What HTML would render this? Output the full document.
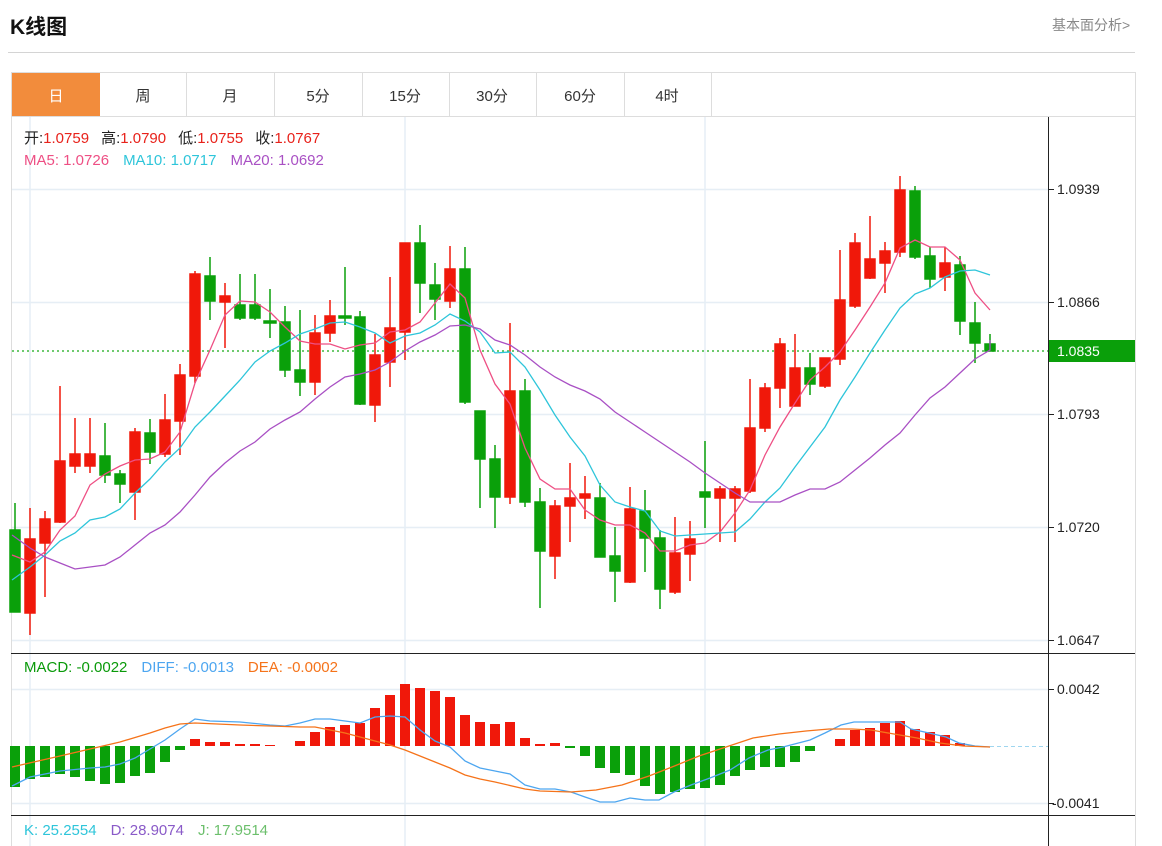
<!DOCTYPE html>
<html><head><meta charset="utf-8"><style>
body{margin:0;background:#fff;width:1162px;height:846px;overflow:hidden;font-family:"Liberation Sans","Noto Sans CJK SC",sans-serif}
svg{position:absolute;left:0;top:0}
</style></head><body>
<svg width="1162" height="846" xmlns="http://www.w3.org/2000/svg" font-family="Liberation Sans, Noto Sans CJK SC, sans-serif">
<text x="10" y="34" font-size="21" font-weight="bold" fill="#111">K线图</text>
<text x="1052" y="30" font-size="14" fill="#888">基本面分析&gt;</text>
<line x1="8" y1="52.5" x2="1135" y2="52.5" stroke="#d4d4d4"/>
<rect x="11.5" y="72.5" width="1124" height="780" fill="none" stroke="#ddd"/>
<line x1="11" y1="116.5" x2="1135" y2="116.5" stroke="#ddd"/>
<rect x="12" y="73" width="88" height="43" fill="#f28c3c"/>
<g stroke="#ddd"><line x1="186.5" y1="73" x2="186.5" y2="116"/><line x1="274.5" y1="73" x2="274.5" y2="116"/><line x1="362.5" y1="73" x2="362.5" y2="116"/><line x1="449.5" y1="73" x2="449.5" y2="116"/><line x1="536.5" y1="73" x2="536.5" y2="116"/><line x1="624.5" y1="73" x2="624.5" y2="116"/><line x1="711.5" y1="73" x2="711.5" y2="116"/></g>
<g font-size="15" fill="#333" text-anchor="middle"><text x="56" y="101" fill="#fff">日</text><text x="143" y="101">周</text><text x="230" y="101">月</text><text x="318" y="101">5分</text><text x="405" y="101">15分</text><text x="492" y="101">30分</text><text x="580" y="101">60分</text><text x="667" y="101">4时</text></g>
<!-- grid -->
<g stroke="#e6eef5" stroke-width="1.5"><line x1="30" y1="117" x2="30" y2="846"/><line x1="405" y1="117" x2="405" y2="846"/><line x1="705" y1="117" x2="705" y2="846"/>
<line x1="12" y1="189.5" x2="1048" y2="189.5"/><line x1="12" y1="302.5" x2="1048" y2="302.5"/><line x1="12" y1="414.5" x2="1048" y2="414.5"/><line x1="12" y1="527.5" x2="1048" y2="527.5"/><line x1="12" y1="640.5" x2="1048" y2="640.5"/><line x1="12" y1="689.5" x2="1048" y2="689.5"/><line x1="12" y1="803.5" x2="1048" y2="803.5"/></g>
<line x1="1048.5" y1="117" x2="1048.5" y2="846" stroke="#222"/>
<line x1="11" y1="653.5" x2="1135" y2="653.5" stroke="#222"/>
<line x1="11" y1="815.5" x2="1135" y2="815.5" stroke="#222"/>
<g stroke="#222"><line x1="1048" y1="189.5" x2="1054" y2="189.5"/><line x1="1048" y1="302.5" x2="1054" y2="302.5"/><line x1="1048" y1="414.5" x2="1054" y2="414.5"/><line x1="1048" y1="527.5" x2="1054" y2="527.5"/><line x1="1048" y1="640.5" x2="1054" y2="640.5"/><line x1="1048" y1="689.5" x2="1054" y2="689.5"/><line x1="1048" y1="803.5" x2="1054" y2="803.5"/></g>
<g font-size="14" fill="#222"><text x="1057" y="194">1.0939</text><text x="1057" y="307">1.0866</text><text x="1057" y="419">1.0793</text><text x="1057" y="532">1.0720</text><text x="1057" y="645">1.0647</text><text x="1057" y="694">0.0042</text><text x="1052" y="808">-0.0041</text></g>
<!-- legend -->
<g font-size="15"><text x="24" y="143"><tspan fill="#222">开:</tspan><tspan fill="#e8221b">1.0759</tspan><tspan fill="#222" dx="12">高:</tspan><tspan fill="#e8221b">1.0790</tspan><tspan fill="#222" dx="12">低:</tspan><tspan fill="#e8221b">1.0755</tspan><tspan fill="#222" dx="12">收:</tspan><tspan fill="#e8221b">1.0767</tspan></text>
<text x="24" y="165"><tspan fill="#ee4f84">MA5: 1.0726</tspan><tspan fill="#2ec5da" dx="14">MA10: 1.0717</tspan><tspan fill="#a950c4" dx="14">MA20: 1.0692</tspan></text>
<text x="24" y="672"><tspan fill="#0a9a0a">MACD: -0.0022</tspan><tspan fill="#4da6f0" dx="14">DIFF: -0.0013</tspan><tspan fill="#f5731a" dx="14">DEA: -0.0002</tspan></text>
<text x="24" y="835"><tspan fill="#2ec5da">K: 25.2554</tspan><tspan fill="#8a5ac8" dx="14">D: 28.9074</tspan><tspan fill="#6cbf6c" dx="14">J: 17.9514</tspan></text></g>
<!-- current price -->
<line x1="12" y1="351" x2="1048" y2="351" stroke="#3fb93f" stroke-width="1.5" stroke-dasharray="2,3"/>
<rect x="1049" y="340" width="86" height="22" fill="#0a9f0a"/>
<text x="1057" y="356" font-size="14" fill="#fff">1.0835</text>
<!-- candles -->
<g stroke-width="1.5">
<g stroke="#0aa00a" fill="#0aa00a">
<line x1="15" y1="503" x2="15" y2="612"/><rect x="10" y="530" width="10" height="82"/>
<line x1="105" y1="423" x2="105" y2="483"/><rect x="100" y="456" width="10" height="19"/>
<line x1="120" y1="470" x2="120" y2="503"/><rect x="115" y="474" width="10" height="10"/>
<line x1="150" y1="419" x2="150" y2="464"/><rect x="145" y="433" width="10" height="19"/>
<line x1="210" y1="257" x2="210" y2="320"/><rect x="205" y="276" width="10" height="25"/>
<line x1="240" y1="274" x2="240" y2="320"/><rect x="235" y="305" width="10" height="13"/>
<line x1="255" y1="274" x2="255" y2="320"/><rect x="250" y="305" width="10" height="13"/>
<line x1="270" y1="289" x2="270" y2="338"/><rect x="264" y="321" width="12" height="2"/>
<line x1="285" y1="306" x2="285" y2="377"/><rect x="280" y="322" width="10" height="48"/>
<line x1="300" y1="310" x2="300" y2="396"/><rect x="295" y="370" width="10" height="12"/>
<line x1="345" y1="267" x2="345" y2="325"/><rect x="339" y="316" width="12" height="2"/>
<line x1="360" y1="311" x2="360" y2="405"/><rect x="355" y="317" width="10" height="87"/>
<line x1="420" y1="225" x2="420" y2="313"/><rect x="415" y="243" width="10" height="40"/>
<line x1="435" y1="263" x2="435" y2="320"/><rect x="430" y="285" width="10" height="14"/>
<line x1="465" y1="247" x2="465" y2="404"/><rect x="460" y="269" width="10" height="133"/>
<line x1="480" y1="411" x2="480" y2="508"/><rect x="475" y="411" width="10" height="48"/>
<line x1="495" y1="445" x2="495" y2="528"/><rect x="490" y="459" width="10" height="38"/>
<line x1="525" y1="379" x2="525" y2="507"/><rect x="520" y="391" width="10" height="111"/>
<line x1="540" y1="488" x2="540" y2="608"/><rect x="535" y="502" width="10" height="49"/>
<line x1="600" y1="483" x2="600" y2="557"/><rect x="595" y="498" width="10" height="59"/>
<line x1="615" y1="527" x2="615" y2="602"/><rect x="610" y="556" width="10" height="15"/>
<line x1="645" y1="490" x2="645" y2="572"/><rect x="640" y="511" width="10" height="27"/>
<line x1="660" y1="530" x2="660" y2="609"/><rect x="655" y="538" width="10" height="51"/>
<line x1="705" y1="441" x2="705" y2="528"/><rect x="700" y="492" width="10" height="5"/>
<line x1="810" y1="353" x2="810" y2="395"/><rect x="805" y="368" width="10" height="16"/>
<line x1="915" y1="186" x2="915" y2="259"/><rect x="910" y="191" width="10" height="66"/>
<line x1="930" y1="247" x2="930" y2="288"/><rect x="925" y="256" width="10" height="23"/>
<line x1="960" y1="256" x2="960" y2="335"/><rect x="955" y="265" width="10" height="56"/>
<line x1="975" y1="302" x2="975" y2="363"/><rect x="970" y="323" width="10" height="20"/>
<line x1="990" y1="334" x2="990" y2="351"/><rect x="985" y="344" width="10" height="7"/>
</g>
<g stroke="#f0180a" fill="#f0180a">
<line x1="30" y1="508" x2="30" y2="635"/><rect x="25" y="539" width="10" height="74"/>
<line x1="45" y1="511" x2="45" y2="597"/><rect x="40" y="519" width="10" height="24"/>
<line x1="60" y1="386" x2="60" y2="523"/><rect x="55" y="461" width="10" height="61"/>
<line x1="75" y1="418" x2="75" y2="473"/><rect x="70" y="454" width="10" height="12"/>
<line x1="90" y1="418" x2="90" y2="473"/><rect x="85" y="454" width="10" height="12"/>
<line x1="135" y1="428" x2="135" y2="520"/><rect x="130" y="432" width="10" height="60"/>
<line x1="165" y1="394" x2="165" y2="457"/><rect x="160" y="420" width="10" height="34"/>
<line x1="180" y1="364" x2="180" y2="455"/><rect x="175" y="375" width="10" height="46"/>
<line x1="195" y1="271" x2="195" y2="383"/><rect x="190" y="274" width="10" height="102"/>
<line x1="225" y1="283" x2="225" y2="348"/><rect x="220" y="296" width="10" height="6"/>
<line x1="315" y1="315" x2="315" y2="395"/><rect x="310" y="333" width="10" height="49"/>
<line x1="330" y1="300" x2="330" y2="342"/><rect x="325" y="316" width="10" height="17"/>
<line x1="375" y1="334" x2="375" y2="422"/><rect x="370" y="355" width="10" height="50"/>
<line x1="390" y1="277" x2="390" y2="387"/><rect x="385" y="328" width="10" height="34"/>
<line x1="405" y1="243" x2="405" y2="360"/><rect x="400" y="243" width="10" height="89"/>
<line x1="450" y1="246" x2="450" y2="308"/><rect x="445" y="269" width="10" height="32"/>
<line x1="510" y1="323" x2="510" y2="504"/><rect x="505" y="391" width="10" height="106"/>
<line x1="555" y1="500" x2="555" y2="579"/><rect x="550" y="506" width="10" height="50"/>
<line x1="570" y1="463" x2="570" y2="542"/><rect x="565" y="498" width="10" height="8"/>
<line x1="585" y1="476" x2="585" y2="519"/><rect x="580" y="494" width="10" height="4"/>
<line x1="630" y1="487" x2="630" y2="583"/><rect x="625" y="509" width="10" height="73"/>
<line x1="675" y1="517" x2="675" y2="594"/><rect x="670" y="553" width="10" height="39"/>
<line x1="690" y1="521" x2="690" y2="581"/><rect x="685" y="539" width="10" height="15"/>
<line x1="720" y1="486" x2="720" y2="542"/><rect x="715" y="489" width="10" height="9"/>
<line x1="735" y1="486" x2="735" y2="542"/><rect x="730" y="489" width="10" height="9"/>
<line x1="750" y1="379" x2="750" y2="493"/><rect x="745" y="428" width="10" height="63"/>
<line x1="765" y1="383" x2="765" y2="432"/><rect x="760" y="388" width="10" height="40"/>
<line x1="780" y1="338" x2="780" y2="408"/><rect x="775" y="344" width="10" height="44"/>
<line x1="795" y1="334" x2="795" y2="406"/><rect x="790" y="368" width="10" height="38"/>
<line x1="825" y1="358" x2="825" y2="388"/><rect x="820" y="358" width="10" height="28"/>
<line x1="840" y1="250" x2="840" y2="365"/><rect x="835" y="300" width="10" height="59"/>
<line x1="855" y1="233" x2="855" y2="308"/><rect x="850" y="243" width="10" height="63"/>
<line x1="870" y1="216" x2="870" y2="279"/><rect x="865" y="259" width="10" height="19"/>
<line x1="885" y1="242" x2="885" y2="293"/><rect x="880" y="251" width="10" height="12"/>
<line x1="900" y1="176" x2="900" y2="257"/><rect x="895" y="190" width="10" height="62"/>
<line x1="945" y1="247" x2="945" y2="291"/><rect x="940" y="263" width="10" height="14"/>
</g></g>
<!-- MA lines -->
<g fill="none" stroke-width="1.3">
<polyline stroke="#ee4f84" points="12,555 30,562 45,552 60,530 75,516 90,485 105,474 120,466 135,460 150,459 165,452 180,432 195,383 210,350 225,315 240,301 255,302 270,312 285,327 300,341 315,344 330,344 345,349 360,345 375,343 390,332 405,330 420,322 435,303 450,284 465,298 480,350 495,384 510,404 525,448 540,479 555,489 570,489 585,510 600,520 615,525 630,525 645,533 660,551 675,551 690,545 705,543 720,532 735,513 750,490 765,455 780,427 795,403 810,380 825,367 840,352 855,330 870,307 885,283 900,248 915,240 930,247 945,247 960,260 975,293 990,310"/>
<polyline stroke="#2ec5da" points="12,580 30,567 45,555 60,541 75,533 90,520 105,517 120,509 135,493 150,479 165,462 180,448 195,427 210,412 225,396 240,380 255,362 270,351 285,343 300,334 315,329 330,323 345,322 360,327 375,333 390,343 405,336 420,333 435,325 450,314 465,321 480,332 495,353 510,352 525,367 540,390 555,415 570,437 585,456 600,485 615,502 630,507 645,511 660,531 675,536 690,535 705,534 720,533 735,532 750,519 765,502 780,488 795,467 810,447 825,427 840,400 855,377 870,353 885,330 900,308 915,294 930,288 945,277 960,271 975,270 990,275"/>
<polyline stroke="#a950c4" points="12,535 30,548 45,557 60,563 75,569 90,567 105,565 120,557 135,545 150,533 165,525 180,512 195,495 210,477 225,463 240,451 255,442 270,429 285,420 300,412 315,399 330,387 345,377 360,374 375,370 390,362 405,351 420,342 435,335 450,326 465,325 480,329 495,340 510,345 525,355 540,367 555,377 570,385 585,391 600,399 615,412 630,422 645,432 660,442 675,452 690,462 705,473 720,483 735,493 750,502 765,502 780,502 795,495 810,489 825,489 840,482 855,470 870,458 885,445 900,433 915,415 930,398 945,387 960,373 975,359 990,350 990,340"/>
</g>
<!-- MACD -->
<line x1="990" y1="746.5" x2="1048" y2="746.5" stroke="#9fd6ef" stroke-dasharray="4,3"/>
<g fill="#0aa00a">
<rect x="10" y="746" width="10" height="41"/><rect x="25" y="746" width="10" height="33"/><rect x="40" y="746" width="10" height="31"/><rect x="55" y="746" width="10" height="28"/><rect x="70" y="746" width="10" height="31"/><rect x="85" y="746" width="10" height="35"/><rect x="100" y="746" width="10" height="38"/><rect x="115" y="746" width="10" height="37"/><rect x="130" y="746" width="10" height="30"/><rect x="145" y="746" width="10" height="27"/><rect x="160" y="746" width="10" height="16"/><rect x="175" y="746" width="10" height="4"/>
<rect x="565" y="746" width="10" height="2"/><rect x="580" y="746" width="10" height="10"/><rect x="595" y="746" width="10" height="22"/><rect x="610" y="746" width="10" height="27"/><rect x="625" y="746" width="10" height="29"/><rect x="640" y="746" width="10" height="40"/><rect x="655" y="746" width="10" height="48"/><rect x="670" y="746" width="10" height="46"/><rect x="685" y="746" width="10" height="43"/><rect x="700" y="746" width="10" height="42"/><rect x="715" y="746" width="10" height="39"/><rect x="730" y="746" width="10" height="30"/><rect x="745" y="746" width="10" height="24"/><rect x="760" y="746" width="10" height="21"/><rect x="775" y="746" width="10" height="21"/><rect x="790" y="746" width="10" height="16"/><rect x="805" y="746" width="10" height="5"/>
</g>
<g fill="#f0180a">
<rect x="190" y="739" width="10" height="7"/><rect x="205" y="742" width="10" height="4"/><rect x="220" y="742" width="10" height="4"/><rect x="235" y="744" width="10" height="2"/><rect x="250" y="744" width="10" height="2"/><rect x="265" y="745" width="10" height="1"/><rect x="295" y="741" width="10" height="5"/><rect x="310" y="732" width="10" height="14"/><rect x="325" y="727" width="10" height="19"/><rect x="340" y="725" width="10" height="21"/><rect x="355" y="723" width="10" height="23"/><rect x="370" y="708" width="10" height="38"/><rect x="385" y="695" width="10" height="51"/><rect x="400" y="684" width="10" height="62"/><rect x="415" y="688" width="10" height="58"/><rect x="430" y="691" width="10" height="55"/><rect x="445" y="697" width="10" height="49"/><rect x="460" y="715" width="10" height="31"/><rect x="475" y="722" width="10" height="24"/><rect x="490" y="724" width="10" height="22"/><rect x="505" y="722" width="10" height="24"/><rect x="520" y="738" width="10" height="8"/><rect x="535" y="744" width="10" height="2"/><rect x="550" y="743" width="10" height="3"/>
<rect x="835" y="739" width="10" height="7"/><rect x="850" y="730" width="10" height="16"/><rect x="865" y="728" width="10" height="18"/><rect x="880" y="723" width="10" height="23"/><rect x="895" y="721" width="10" height="25"/><rect x="910" y="729" width="10" height="17"/><rect x="925" y="732" width="10" height="14"/><rect x="940" y="735" width="10" height="11"/><rect x="955" y="743" width="10" height="3"/>
</g>
<g fill="none" stroke-width="1.3">
<polyline stroke="#4da6f0" points="12,786 30,777 60,771 90,768 105,767 120,764 135,758 150,749 165,740 180,729 195,719 210,721 240,722 270,725 285,726 300,723 315,719 330,719 345,721 360,723 375,717 390,716 405,717 420,730 435,741 450,747 465,761 480,768 495,771 510,774 525,785 540,789 555,789 571,792 585,797 600,802 615,802 630,798 645,800 659,800 674,792 691,785 710,778 730,770 749,758 768,750 783,747 810,740 825,733 841,725 854,722 900,722 911,729 929,733 946,737 959,743 975,746 990,747"/>
<polyline stroke="#f5731a" points="12,767 60,756 90,749 120,742 150,733 165,728 180,724 195,723 240,725 270,726 300,727 315,727 330,730 345,733 360,737 375,741 390,745 405,750 420,756 435,762 450,768 465,775 480,779 495,782 525,789 540,791 571,792 596,790 622,785 649,776 672,767 699,756 726,747 753,738 779,734 806,731 829,729 852,729 871,730 894,734 917,738 940,743 963,746 990,747"/>
</g>
</svg>
</body></html>
